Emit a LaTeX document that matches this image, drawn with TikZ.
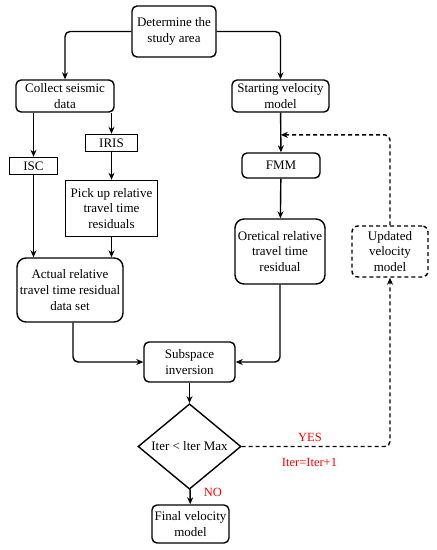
\documentclass[tikz,border=0pt]{standalone}
\usepackage{fontspec}
\setmainfont{Liberation Serif}
\usetikzlibrary{shapes.geometric,arrows.meta}
\begin{document}
\begin{tikzpicture}[x=1pt,y=-1pt,
  font=\fontsize{13}{15.6}\selectfont,
  every node/.style={align=center,inner sep=1pt},
  rbox/.style={draw,rounded corners=5pt,line width=1.4pt},
  bigr/.style={draw,rounded corners=9pt,line width=1.4pt},
  sbox/.style={draw,line width=1.4pt},
  dbox/.style={draw,dashed,dash pattern=on 4pt off 3pt,rounded corners=6pt,line width=1.4pt},
  conn/.style={line width=1.4pt,-{Stealth[length=7pt,width=6pt]},rounded corners=5pt},
  dconn/.style={conn,dash pattern=on 4pt off 3pt},
  lbl/.style={text=red,font=\fontsize{12.5}{15}\selectfont}]
\useasboundingbox (0,0) rectangle (437,550);
\node[rbox,minimum width=84pt,minimum height=51pt] (top) at (174,31.5) {Determine the\\study area};
\node[rbox,minimum width=98pt,minimum height=32pt] (collect) at (65,96) {Collect seismic\\data};
\node[rbox,minimum width=97pt,minimum height=32pt] (start) at (280.5,96) {Starting velocity\\model};
\node[sbox,minimum width=48pt,minimum height=17pt] (isc) at (33.5,166) {ISC};
\node[sbox,minimum width=52pt,minimum height=17pt] (iris) at (111.5,143) {IRIS};
\node[sbox,minimum width=92pt,minimum height=56pt] (pick) at (111.5,208.5) {Pick up relative\\travel time\\residuals};
\node[bigr,minimum width=106pt,minimum height=64pt] (actual) at (70,290) {Actual relative\\travel time residual\\data set};
\node[rbox,minimum width=78pt,minimum height=25pt] (fmm) at (281,165.5) {FMM};
\node[bigr,minimum width=90pt,minimum height=65pt] (oret) at (280,251.5) {Oretical relative\\travel time\\residual};
\node[dbox,minimum width=76pt,minimum height=51pt] (upd) at (390,251.5) {Updated\\velocity\\model};
\node[rbox,minimum width=91pt,minimum height=40pt] (sub) at (189.5,362) {Subspace\\inversion};
\node[draw,diamond,inner sep=0pt,minimum width=103pt,minimum height=63pt,line width=1.4pt] (dia) at (189.5,446.5) {Iter < lter Max};
\node[rbox,minimum width=77pt,minimum height=38pt] (final) at (190.5,524) {Final velocity\\model};
\node[lbl] (yes) at (310,437) {YES};
\node[lbl] (inc) at (309.5,462.5) {Iter=Iter+1};
\node[lbl] (no) at (213,492.5) {NO};
\path (start.south) -- (fmm.north) coordinate[pos=0.56] (fb);
\draw[conn] (top.west) -| (collect.north);
\draw[conn] (top.east) -| (start.north);
\draw[conn] (collect.south -| isc.north) -- (isc.north);
\draw[conn] (collect.south -| iris.north) -- (iris.north);
\draw[conn] (iris) -- (pick);
\draw[conn] (isc.south) -- (isc.south |- actual.north);
\draw[conn] (pick.south) -- (pick.south |- actual.north);
\draw[conn] (start) -- (fmm);
\draw[conn] (fmm) -- (oret);
\draw[conn] ([xshift=3pt]actual.south) |- (sub.west);
\draw[conn] (oret.south) |- (sub.east);
\draw[conn] (sub) -- (dia);
\draw[conn] (dia) -- (final);
\draw[dconn] (dia.east) -| (upd.south);
\draw[dconn] (upd.north) |- (fb);
\end{tikzpicture}
\end{document}
